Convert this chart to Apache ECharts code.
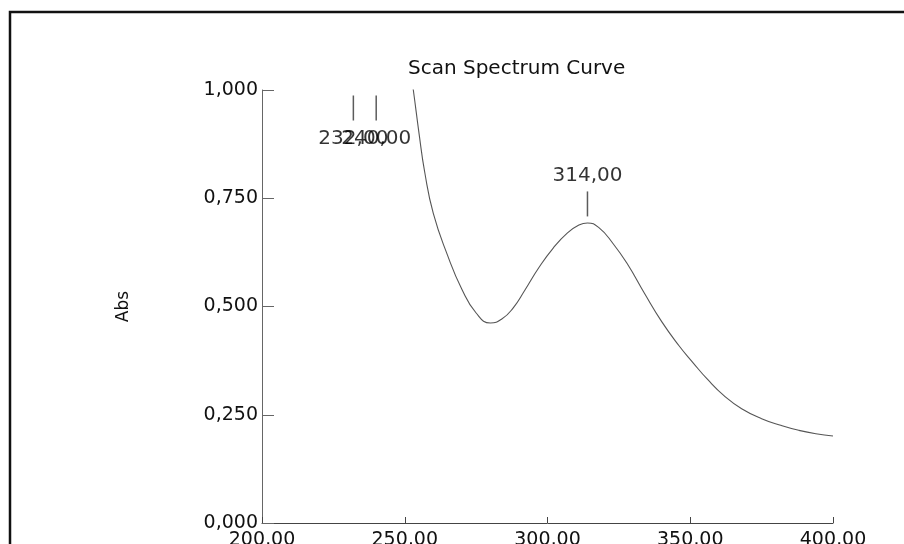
<!DOCTYPE html>
<html>
<head>
<meta charset="utf-8">
<script src="https://cdn.jsdelivr.net/npm/echarts@6/dist/echarts.min.js"></script>
<style>
  html, body { margin: 0; padding: 0; background: #fff; }
  #chart { width: 904px; height: 544px; }
</style>
</head>
<body>
<div id="chart"></div>
<script>
// scan spectrum, wavelength (nm) vs absorbance
const wavelength = [250, 253, 255, 257, 260, 265, 270, 275, 280, 284, 288, 292, 297, 302, 307, 311, 314, 318, 323, 328, 334, 340, 346, 351, 356, 362, 368, 375, 382, 388, 394, 400]
const absorbance = [1.14, 1.00, 0.90, 0.81, 0.715, 0.618, 0.540, 0.485, 0.462, 0.471, 0.497, 0.537, 0.590, 0.635, 0.670, 0.688, 0.693, 0.682, 0.645, 0.598, 0.530, 0.465, 0.410, 0.370, 0.332, 0.293, 0.264, 0.241, 0.225, 0.214, 0.206, 0.201]

// peaks inside the plot
const peakNm = [314]
const peakAbs = [0.693]
// peaks above the top of the scale (drawn at the top edge)
const offPeakNm = [232, 240]

const xTicks = [200, 250, 300, 350, 400]
const yTicks = [0, 0.25, 0.5, 0.75, 1]

const xMin = xTicks[0], xMax = xTicks[xTicks.length - 1]
const yMin = yTicks[0], yMax = yTicks[yTicks.length - 1]

const comma = (v, d) => v.toFixed(d).replace('.', ',')
const font = 'DejaVu Sans'
const ink = '#111'

const chart = echarts.init(document.getElementById('chart'))

let option = {
    animation: false,
    backgroundColor: '#fff',
    title: {
        text: 'Scan Spectrum Curve',
        left: 403,
        top: 54,
        textStyle: { fontFamily: font, fontSize: 20, fontWeight: 'normal', color: ink }
    },
    graphic: [{
        type: 'rect',
        shape: { x: 10, y: 12, width: 1000, height: 1000 },
        style: { fill: 'none', stroke: '#111', lineWidth: 2.5 },
        silent: true
    }],
    grid: { left: 262, right: 71, top: 90, bottom: 21, outerBoundsMode: 'none', containLabel: false },
    xAxis: {
        type: 'value',
        min: xMin,
        max: xMax,
        interval: 50,
        axisLine: { lineStyle: { color: '#444', width: 1 } },
        axisTick: { inside: true, length: 6, lineStyle: { color: '#444' } },
        axisLabel: {
            margin: 8,
            fontFamily: font,
            fontSize: 19,
            color: ink,
            formatter: v => comma(v, 2)
        },
        splitLine: { show: false }
    },
    yAxis: {
        type: 'value',
        min: yMin,
        max: yMax,
        interval: 0.25,
        name: 'Abs',
        nameLocation: 'middle',
        nameGap: 130,
        nameTextStyle: { fontFamily: font, fontSize: 17, color: ink },
        axisLine: { show: true, lineStyle: { color: '#666', width: 1 } },
        axisTick: { show: true, inside: true, length: 12, lineStyle: { color: '#666' } },
        axisLabel: {
            margin: 4,
            fontFamily: font,
            fontSize: 19,
            color: ink,
            formatter: v => comma(v, 3)
        },
        splitLine: { show: false }
    },
    series: [
        {
            name: 'spectrum',
            type: 'line',
            smooth: 0.5,
            showSymbol: false,
            lineStyle: { color: '#555', width: 1.1 },
            data: wavelength.map((w, i) => [w, absorbance[i]])
        },
        {
            name: 'peaks',
            type: 'scatter',
            clip: false,
            symbol: 'rect',
            symbolSize: [1.5, 25],
            symbolOffset: [0, -19],
            itemStyle: { color: '#333' },
            label: {
                show: true,
                position: 'top',
                distance: 6,
                fontFamily: font,
                fontSize: 20,
                color: '#000',
                formatter: p => comma(p.value[0], 2)
            },
            data: peakNm.map((w, i) => [w, peakAbs[i]])
        },
        {
            name: 'offscale peaks',
            type: 'scatter',
            clip: false,
            symbol: 'rect',
            symbolSize: [1.5, 25],
            symbolOffset: [0, 18],
            itemStyle: { color: '#333' },
            label: {
                show: true,
                position: 'bottom',
                distance: 8,
                fontFamily: font,
                fontSize: 20,
                color: '#000',
                formatter: p => comma(p.value[0], 2)
            },
            data: offPeakNm.map(w => [w, yMax])
        }
    ]
}

chart.setOption(option)
</script>
</body>
</html>
